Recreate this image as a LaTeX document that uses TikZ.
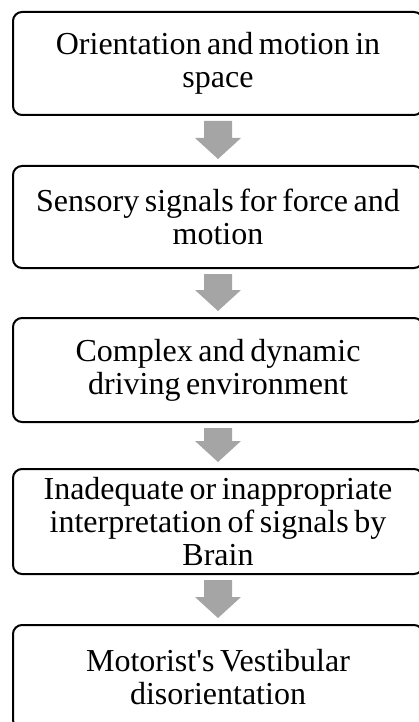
\documentclass[tikz,border=0pt]{standalone}
\usepackage{fontspec}
\setmainfont{Liberation Serif}[WordSpace=0.7]
\usetikzlibrary{calc}
\definecolor{arrowgray}{HTML}{A5A5A5}
\tikzset{
  flowbox/.style={draw=black, line width=2pt, rounded corners=9pt, outer sep=0pt,
    minimum width=410pt, align=center, inner sep=0pt,
    font=\fontsize{32}{33}\selectfont},
}
\newcommand{\blockarrow}[2]{%
  \fill[arrowgray] let \p1=(#1.south), \p2=(#2.north) in
    (\x1-14pt,\y1-6pt) -- (\x1+14pt,\y1-6pt) -- (\x1+14pt,\y2+28pt) --
    (\x1+23pt,\y2+28pt) -- (\x1,\y2+7pt) -- (\x1-23pt,\y2+28pt) --
    (\x1-14pt,\y2+28pt) -- cycle;}
\begin{document}
\begin{tikzpicture}[x=1pt,y=-1pt]
\useasboundingbox (0,0) rectangle (419,722);
\clip (0,0) rectangle (419,722);
\node[flowbox, minimum height=103pt] (b1) at (218,63.5) {Orientation and motion in\\space};
\node[flowbox, minimum height=102pt] (b2) at (218,217) {Sensory signals for force and\\motion};
\node[flowbox, minimum height=104pt] (b3) at (218,370) {Complex and dynamic\\driving environment};
\node[flowbox, minimum height=105pt] (b4) at (218,521.5) {Inadequate or inappropriate\\interpretation of signals by\\Brain};
\node[flowbox, minimum height=104pt] (b5) at (218,677) {Motorist\textquotesingle s Vestibular\\disorientation};
\blockarrow{b1}{b2}
\blockarrow{b2}{b3}
\blockarrow{b3}{b4}
\blockarrow{b4}{b5}
\end{tikzpicture}
\end{document}
